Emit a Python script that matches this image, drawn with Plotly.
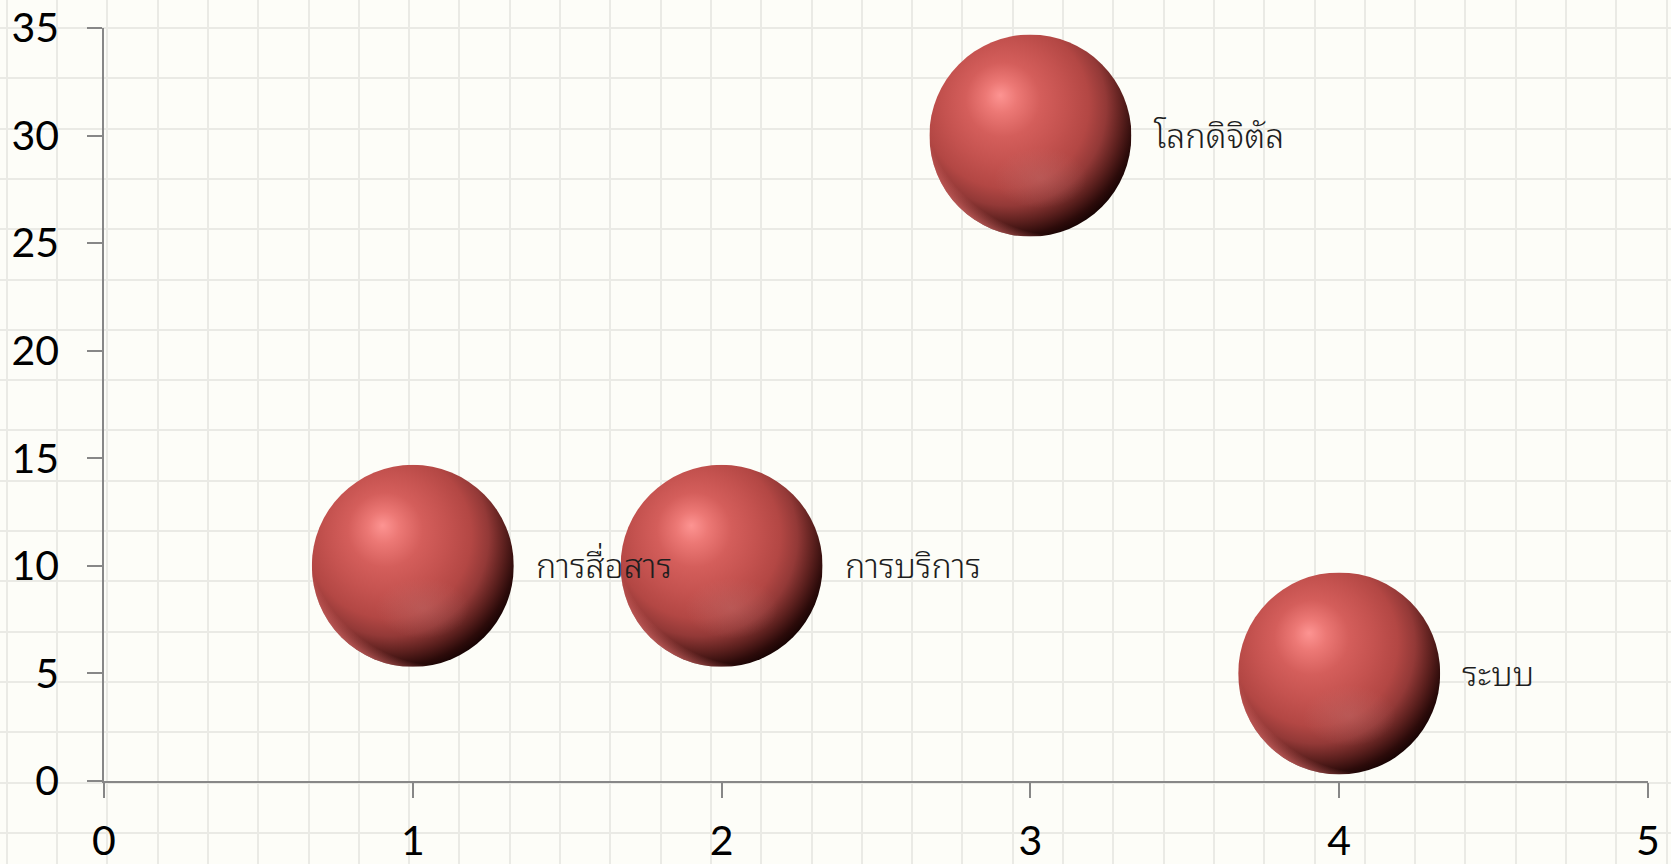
import base64
import plotly.graph_objects as go

# Chart data
categories = ["การสื่อสาร", "การบริการ", "โลกดิจิตัล", "ระบบ"]
x_values = [1, 2, 3, 4]
y_values = [10, 10, 30, 5]
x_ticks = [0, 1, 2, 3, 4, 5]
y_ticks = [0, 5, 10, 15, 20, 25, 30, 35]

W, H = 1671, 864
BG = "#FDFDF8"
AXIS = "#878787"
BUBBLE_PX = 202

# plot area of the chart axes (paper fractions)
X_DOM = [104 / W, 1648 / W]
Y_DOM = [(H - 781) / H, (H - 28) / H]
X_RANGE = [0, 5]
Y_RANGE = [0, 35]

px_per_x = W * (X_DOM[1] - X_DOM[0]) / (X_RANGE[1] - X_RANGE[0])
px_per_y = H * (Y_DOM[1] - Y_DOM[0]) / (Y_RANGE[1] - Y_RANGE[0])

# shaded sphere used for each bubble
SPHERE_SVG = """<svg xmlns="http://www.w3.org/2000/svg" width="400" height="400" viewBox="0 0 200 200">
<defs>
<radialGradient id="body" cx="0.40" cy="0.38" r="0.66" fx="0.35" fy="0.30">
<stop offset="0" stop-color="#fd9492"/>
<stop offset="0.12" stop-color="#ec7875"/>
<stop offset="0.28" stop-color="#d45e5b"/>
<stop offset="0.46" stop-color="#c4524f"/>
<stop offset="0.62" stop-color="#b34744"/>
<stop offset="0.74" stop-color="#933937"/>
<stop offset="0.85" stop-color="#5c201e"/>
<stop offset="0.94" stop-color="#2c0b0a"/>
<stop offset="1" stop-color="#150303"/>
</radialGradient>
<radialGradient id="glow" cx="0.5" cy="0.5" r="0.5">
<stop offset="0" stop-color="#c27a78" stop-opacity="0.32"/>
<stop offset="1" stop-color="#c27a78" stop-opacity="0"/>
</radialGradient>
<radialGradient id="rim" cx="0.66" cy="0.30" r="0.78">
<stop offset="0.89" stop-color="#e4706e" stop-opacity="0"/>
<stop offset="1" stop-color="#e4706e" stop-opacity="0.9"/>
</radialGradient>
</defs>
<circle cx="100" cy="100" r="100" fill="url(#body)"/>
<ellipse cx="110" cy="142" rx="46" ry="30" fill="url(#glow)"/>
<circle cx="100" cy="100" r="100" fill="url(#rim)"/>
</svg>"""
sphere_src = "data:image/svg+xml;base64," + base64.b64encode(SPHERE_SVG.encode()).decode()

fig = go.Figure()

# graph-paper backdrop axes (whole figure, pixel units)
fig.add_trace(go.Scatter(x=[], y=[], xaxis="x", yaxis="y", hoverinfo="skip", showlegend=False))

# bubbles
fig.add_trace(go.Scatter(
    x=x_values, y=y_values, xaxis="x2", yaxis="y2", mode="markers",
    marker=dict(size=BUBBLE_PX - 6, color="#B04643", line=dict(width=0)),
    text=categories, hoverinfo="text", showlegend=False, cliponaxis=False,
))

thai_font = ("Noto Sans Thai Looped, Noto Serif Thai, Loma, Garuda, Norasi, Waree, Umpush, "
             "Sawasdee, Kinnari, Tlwg Typo, Noto Sans Thai, sans-serif")

images = []
annotations = []
for cat, xv, yv in zip(categories, x_values, y_values):
    images.append(dict(
        source=sphere_src, xref="x2", yref="y2", x=xv, y=yv,
        sizex=BUBBLE_PX / px_per_x, sizey=BUBBLE_PX / px_per_y,
        xanchor="center", yanchor="middle", sizing="stretch", layer="above",
    ))
    annotations.append(dict(
        x=xv, y=yv, xref="x2", yref="y2", text=cat, showarrow=False,
        xanchor="left", yanchor="middle", xshift=BUBBLE_PX / 2 + 20, yshift=3,
        font=dict(family=thai_font, size=34, color="#1e1e1e", weight=300),
    ))

grid_axis = dict(showgrid=True, gridcolor="#EAEAE5", gridwidth=2, showticklabels=False,
                 ticks="", showline=False, zeroline=False, dtick=50.3, fixedrange=True,
                 automargin=False)

tick_font = dict(family="Lato, Open Sans, sans-serif", size=41, color="#000000")
chart_axis = dict(showgrid=False, zeroline=False, showline=True, linecolor=AXIS, linewidth=1.5,
                  ticks="outside", ticklen=15, tickwidth=1.5, tickcolor=AXIS,
                  tickfont=tick_font, fixedrange=True, automargin=False)

fig.update_layout(
    template="none",
    width=W, height=H, margin=dict(l=0, r=0, t=0, b=0, pad=0),
    paper_bgcolor=BG, plot_bgcolor="rgba(0,0,0,0)", showlegend=False,
    xaxis=dict(domain=[0, 1], range=[0, W], anchor="y", tick0=6.7, **grid_axis),
    yaxis=dict(domain=[0, 1], range=[H, 0], anchor="x", tick0=28, **grid_axis),
    xaxis2=dict(domain=X_DOM, range=X_RANGE, anchor="y2", tickvals=x_ticks,
                ticklabelstandoff=8, **chart_axis),
    yaxis2=dict(domain=Y_DOM, range=Y_RANGE, anchor="x2", tickvals=y_ticks,
                ticklabelstandoff=20, **chart_axis),
    images=images,
    annotations=annotations,
)

fig.write_html("out.html")
